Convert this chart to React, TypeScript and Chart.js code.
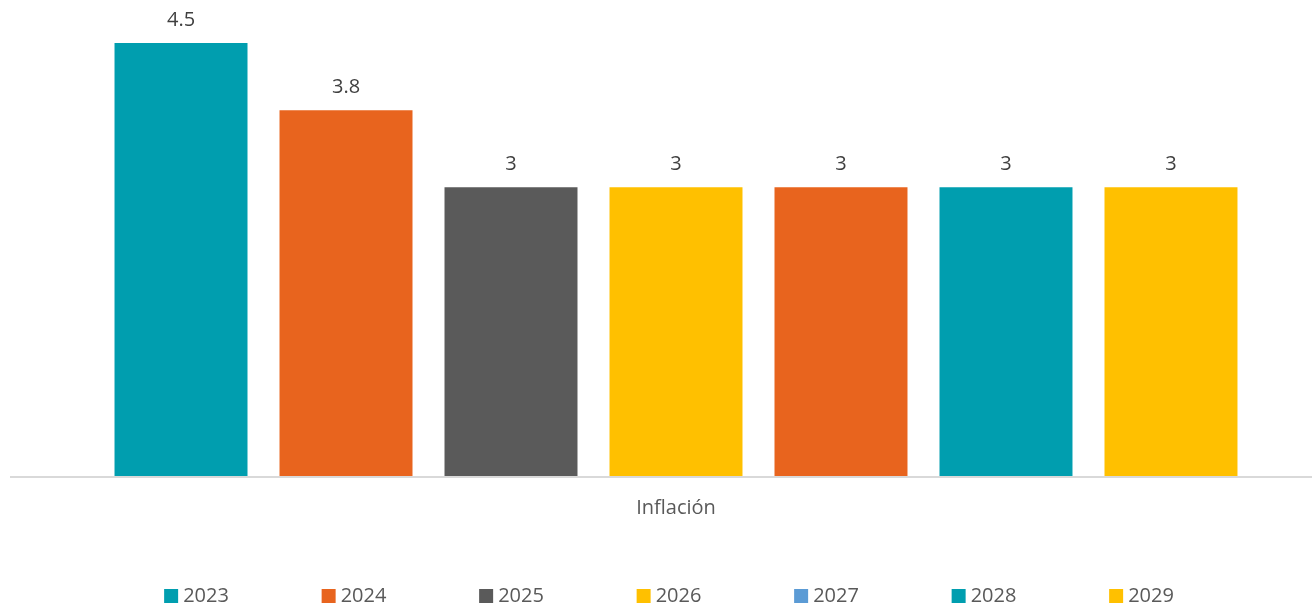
import React, { useEffect, useRef } from "react";
import { Chart, registerables } from "chart.js";

Chart.register(...registerables);

const categories = ["Inflación"];
const seriesNames = ["2023", "2024", "2025", "2026", "2027", "2028", "2029"];
const seriesValues = [4.5, 3.8, 3, 3, 3, 3, 3];
const barColors = ["#009EAF", "#E8641E", "#5A5A5A", "#FFC000", "#E8641E", "#009EAF", "#FFC000"];
const legendColors = ["#009EAF", "#E8641E", "#5A5A5A", "#FFC000", "#5B9BD5", "#009EAF", "#FFC000"];

const FONT = "'Open Sans', 'Noto Sans', sans-serif";

const valueLabels = {
  id: "valueLabels",
  afterDatasetsDraw(chart: any) {
    const ctx = chart.ctx;
    ctx.save();
    ctx.font = `20px ${FONT}`;
    ctx.fillStyle = "#404040";
    ctx.textAlign = "center";
    ctx.textBaseline = "middle";
    chart.data.datasets.forEach((ds: any, i: number) => {
      const meta = chart.getDatasetMeta(i);
      meta.data.forEach((el: any, j: number) => {
        ctx.fillText(String(ds.data[j]), el.x, el.y - 23);
      });
    });
    ctx.restore();
  },
};

const axisLine = {
  id: "axisLine",
  beforeDatasetsDraw(chart: any) {
    const ctx = chart.ctx;
    const y = chart.scales.y.getPixelForValue(0);
    ctx.save();
    ctx.strokeStyle = "#D9D9D9";
    ctx.lineWidth = 2;
    ctx.beginPath();
    ctx.moveTo(10, y + 1);
    ctx.lineTo(chart.width, y + 1);
    ctx.stroke();
    ctx.restore();
  },
};

const customLegend = {
  id: "customLegend",
  afterDraw(chart: any) {
    const ctx = chart.ctx;
    ctx.save();
    ctx.font = `20px ${FONT}`;
    ctx.textBaseline = "middle";
    ctx.textAlign = "left";
    const box = 14;
    const gap = 5;
    const spacing = 157.5;
    const n = seriesNames.length;
    const lastW = box + gap + ctx.measureText(seriesNames[n - 1]).width;
    const total = (n - 1) * spacing + lastW;
    const startX = 669 - total / 2;
    const cy = 596;
    seriesNames.forEach((name, i) => {
      const x = startX + i * spacing;
      ctx.fillStyle = legendColors[i];
      ctx.fillRect(x, cy - box / 2, box, box);
      ctx.fillStyle = "#595959";
      ctx.fillText(name, x + box + gap, cy);
    });
    ctx.restore();
  },
};

export default function App() {
  const ref = useRef<HTMLCanvasElement>(null);
  useEffect(() => {
    if (!ref.current) return;
    const chart = new Chart(ref.current, {
      type: "bar",
      data: {
        labels: categories,
        datasets: seriesNames.map((name, i) => ({
          label: name,
          data: [seriesValues[i]],
          backgroundColor: barColors[i],
          borderWidth: 0,
          categoryPercentage: 0.908,
          barPercentage: 0.806,
        })),
      },
      options: {
        responsive: false,
        animation: false,
        layout: { padding: { top: 43, left: 40, right: 0, bottom: 67 } },
        plugins: {
          legend: { display: false },
          tooltip: { enabled: false },
        },
        scales: {
          x: {
            grid: { display: false, drawTicks: false },
            border: { display: false },
            ticks: {
              padding: 20,
              color: "#595959",
              font: { family: FONT, size: 20 },
            },
          },
          y: {
            display: false,
            min: 0,
            max: 4.5,
          },
        },
      },
      plugins: [valueLabels, axisLine, customLegend],
    });
    return () => chart.destroy();
  }, []);
  return (
    <div style={{ position: "absolute", left: 0, top: 0, width: 1312, height: 607, background: "#fff" }}>
      <canvas ref={ref} width={1312} height={607} />
    </div>
  );
}
